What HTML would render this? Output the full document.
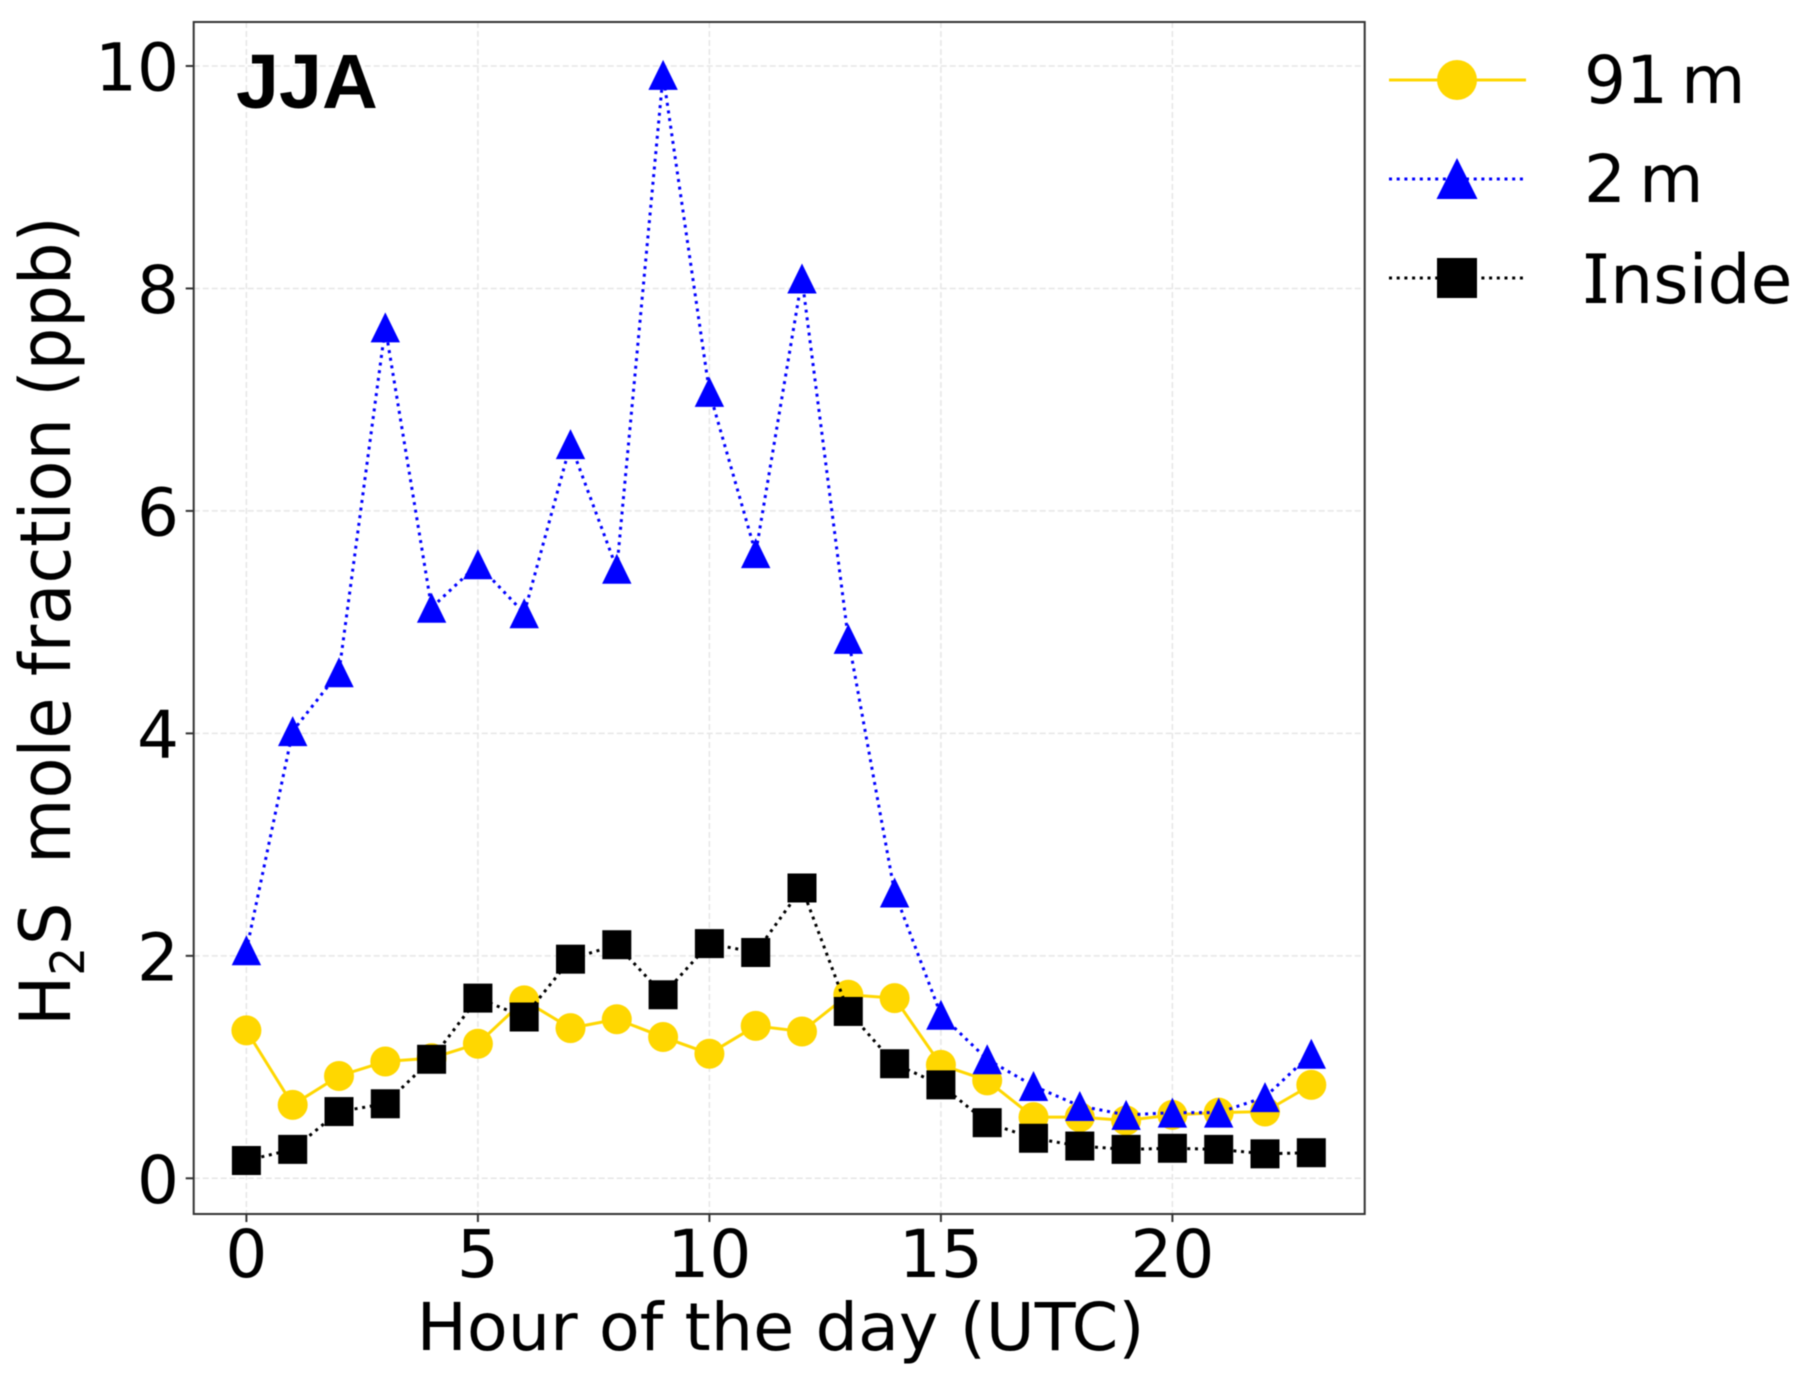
<!DOCTYPE html>
<html lang="en">
<head>
<meta charset="utf-8">
<title>JJA H2S mole fraction by hour</title>
<style>
html,body{margin:0;padding:0;background:#fff}
svg{display:block;filter:blur(0.5px)}
text{font-family:"DejaVu Sans","Liberation Sans",sans-serif;fill:#000}
</style>
</head>
<body>
<svg id="chart" xmlns="http://www.w3.org/2000/svg" width="1806" height="1382" viewBox="0 0 1806 1382">
  <rect x="0" y="0" width="1806" height="1382" fill="#fff"/>
  <g id="grid"></g>
  <g id="series"></g>
  <rect x="193.7" y="22" width="1171" height="1192" fill="none" stroke="#333" stroke-width="2"/>
  <g id="axes"></g>
  <text x="236" y="108" style="font-family:'Liberation Sans',sans-serif;font-weight:bold;font-size:77.3px">JJA</text>
  <text transform="translate(780.5,1350) scale(1.013,1)" text-anchor="middle" font-size="66">Hour of the day (UTC)</text>
  <g transform="translate(70,1026) rotate(-90) scale(1,1.045)">
    <text x="0" y="0" font-size="67">H<tspan font-size="45" dy="13.4">2</tspan><tspan dx="2" dy="-13.4">S</tspan></text>
    <text x="162" y="0" font-size="67.2">mole fraction (ppb)</text>
  </g>
  <g>
    <g>
      <line x1="1389" y1="80" x2="1526" y2="80" stroke="#ffd700" stroke-width="3"/>
      <circle cx="1457" cy="80" r="20" fill="#ffd700"/>
      <text x="1584" y="103" font-size="66">91&#8201;m</text>
    </g>
    <g>
      <line x1="1389" y1="179" x2="1526" y2="179" stroke="#0000ff" stroke-width="3" stroke-dasharray="3 4.7"/>
      <polygon points="1457,158 1477.5,199 1436.5,199" fill="#0000ff"/>
      <text x="1584" y="202" font-size="66">2&#8201;m</text>
    </g>
    <g>
      <line x1="1389" y1="278" x2="1526" y2="278" stroke="#000" stroke-width="3" stroke-dasharray="3 4.7"/>
      <rect x="1437" y="258" width="40" height="40" fill="#000"/>
      <text x="1586.5" y="303" font-size="68">I<tspan dx="3.5">nside</tspan></text>
      <rect x="1586" y="253.4" width="20" height="5" fill="#000"/>
      <rect x="1586" y="298" width="20" height="5" fill="#000"/>
    </g>
  </g>
</svg>
<script>
const hours = [0,1,2,3,4,5,6,7,8,9,10,11,12,13,14,15,16,17,18,19,20,21,22,23];
const series91m = [1.33,0.66,0.92,1.05,1.08,1.21,1.60,1.35,1.43,1.27,1.12,1.37,1.32,1.65,1.62,1.02,0.88,0.55,0.55,0.52,0.57,0.59,0.60,0.84];
const series2m = [2.05,4.02,4.55,7.65,5.13,5.52,5.08,6.60,5.48,9.92,7.07,5.62,8.09,4.85,2.57,1.47,1.07,0.83,0.65,0.57,0.59,0.59,0.73,1.12];
const seriesInside = [0.16,0.26,0.60,0.67,1.07,1.62,1.45,1.97,2.10,1.65,2.11,2.03,2.61,1.50,1.03,0.84,0.50,0.36,0.29,0.26,0.27,0.26,0.22,0.23];
const xTicks = [0,5,10,15,20];
const yTicks = [0,2,4,6,8,10];

const NS = 'http://www.w3.org/2000/svg';
const xScale = function (v) { return 246.4 + v * 46.3; };
const yScale = function (v) { return 1178.3 - v * 111.23; };
const PLOT = { left: 193.7, right: 1364.7, top: 22, bottom: 1214 };

function mk(tag, parent, attrs) {
  const el = document.createElementNS(NS, tag);
  Object.keys(attrs).forEach(function (k) { el.setAttribute(k, attrs[k]); });
  parent.appendChild(el);
  return el;
}

const grid = document.getElementById('grid');
const axes = document.getElementById('axes');
const layer = document.getElementById('series');

xTicks.forEach(function (t) {
  const x = xScale(t);
  const g = mk('line', grid, { x1: x, x2: x, y1: PLOT.top, y2: PLOT.bottom, stroke: '#e6e6e6', 'stroke-width': 1.5, 'stroke-dasharray': '6 3' });
  
  
  const m = mk('line', axes, { x1: x, x2: x, y1: PLOT.bottom, y2: PLOT.bottom + 8, stroke: '#333', 'stroke-width': 2 });
  
  
  const l = mk('text', axes, { x: x, y: 1277, 'text-anchor': 'middle', 'font-size': 66 });
  
  
  l.textContent = String(t);
});

yTicks.forEach(function (t) {
  const y = yScale(t);
  const g = mk('line', grid, { x1: PLOT.left, x2: PLOT.right, y1: y, y2: y, stroke: '#e6e6e6', 'stroke-width': 1.5, 'stroke-dasharray': '6 3' });
  
  
  const m = mk('line', axes, { x1: PLOT.left - 8, x2: PLOT.left, y1: y, y2: y, stroke: '#333', 'stroke-width': 2 });
  
  
  const l = mk('text', axes, { x: 179, y: y + 24.5, 'text-anchor': 'end', 'font-size': 66 });
  
  
  l.textContent = String(t);
});

function linePoints(values) {
  return values.map(function (v, i) { return xScale(hours[i]) + ',' + yScale(v); }).join(' ');
}

const line91 = mk('polyline', layer, { points: linePoints(series91m), fill: 'none', stroke: '#ffd700', 'stroke-width': 3 });


series91m.forEach(function (v, i) {
  const c = mk('circle', layer, { cx: xScale(hours[i]), cy: yScale(v), r: 15, fill: '#ffd700' });
  
  
});

const line2 = mk('polyline', layer, { points: linePoints(series2m), fill: 'none', stroke: '#0000ff', 'stroke-width': 3, 'stroke-dasharray': '3 4.7' });


series2m.forEach(function (v, i) {
  const x = xScale(hours[i]);
  const y = yScale(v);
  const p = mk('polygon', layer, { points: x + ',' + (y - 15) + ' ' + (x + 14.7) + ',' + (y + 15) + ' ' + (x - 14.7) + ',' + (y + 15), fill: '#0000ff' });
  
  
});

const lineIn = mk('polyline', layer, { points: linePoints(seriesInside), fill: 'none', stroke: '#000', 'stroke-width': 3, 'stroke-dasharray': '3 4.7' });


seriesInside.forEach(function (v, i) {
  const r = mk('rect', layer, { x: xScale(hours[i]) - 14.5, y: yScale(v) - 14.5, width: 29, height: 29, fill: '#000' });
  
  
});
</script>
</body>
</html>
